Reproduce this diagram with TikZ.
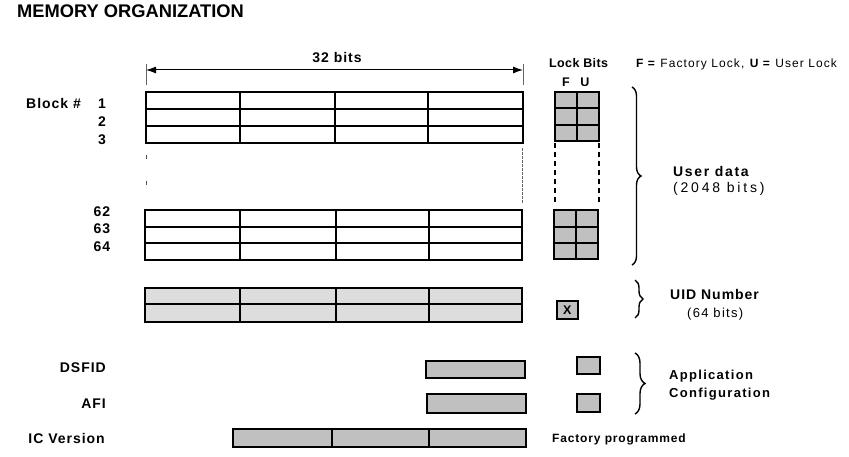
\documentclass[tikz,border=0pt]{standalone}
\usepackage{fontspec}
\setmainfont{Liberation Sans}
\usetikzlibrary{arrows.meta,decorations.pathreplacing}
\definecolor{lockgray}{RGB}{192,192,192}
\definecolor{uidgray}{RGB}{221,221,221}
\begin{document}
\begin{tikzpicture}[x=1pt,y=-1pt,
  tbl/.style={line width=1.7pt, line join=miter},
  thk/.style={line width=2.2pt},
  lbl/.style={inner sep=0pt, font=\bfseries\fontsize{14}{16}\selectfont\addfontfeature{LetterSpace=7}},
  sml/.style={inner sep=0pt, font=\bfseries\fontsize{12.5}{14}\selectfont\addfontfeature{LetterSpace=3}},
  reg/.style={inner sep=0pt, font=\fontsize{13}{15}\selectfont\addfontfeature{LetterSpace=10}},
  app/.style={inner sep=0pt, font=\bfseries\fontsize{13}{15}\selectfont\addfontfeature{LetterSpace=10}},
  gbox/.style={draw, line width=1.7pt, fill=lockgray},
  brc/.style={decorate, decoration={brace, amplitude=9pt, aspect=0.5}, line width=1.4pt},
  dsh/.style={line width=2pt, dash pattern=on 5pt off 4pt}]
\useasboundingbox (0,0) rectangle (849,457);

% title
\node[inner sep=0pt, anchor=base west, font=\bfseries\fontsize{18.3}{20}\selectfont] (title) at (17,18) {MEMORY ORGANIZATION};

% 32 bits dimension
\coordinate (wl) at (146,70);
\coordinate (wr) at (523,70);
\draw[line width=0.8pt, black!60] (146,64) -- (146,85) (523,64) -- (523,85);
\draw[line width=1pt, {Latex[length=10pt,width=7pt]}-{Latex[length=10pt,width=7pt]}] (wl) -- (wr);
\node[lbl, anchor=base] (bits) at (337,63) {32 bits};

% block labels
\node[lbl, anchor=base west] (blk) at (26,109) {Block \#};
\node[lbl, anchor=base] (n1) at (102,109) {1};
\node[lbl, anchor=base] (n2) at (102,127) {2};
\node[lbl, anchor=base] (n3) at (102,145) {3};
\node[lbl, anchor=base] (n62) at (102,217) {62};
\node[lbl, anchor=base] (n63) at (102,234) {63};
\node[lbl, anchor=base] (n64) at (102,252) {64};

% blocks 1-3
\draw[tbl] (146,92) rectangle (523,143);
\draw[thk] (146,109) -- (523,109);
\draw[tbl] (146,126) -- (523,126);
\foreach \x in {240,335,428} \draw[tbl] (\x,92) -- (\x,143);

% gap markers
\draw[line width=0.8pt, black!70] (146,155) -- (146,159) (146,181) -- (146,185);
\draw[line width=0.8pt, black!60, dash pattern=on 3pt off 1pt] (522,148) -- (522,204);

% blocks 62-64
\draw[tbl] (145,210) rectangle (522,260);
\draw[thk] (145,227) -- (522,227) (145,243) -- (522,243);
\foreach \x in {240,336,429} \draw[tbl] (\x,210) -- (\x,260);

% UID rows
\draw[tbl, fill=uidgray] (145,288) rectangle (522,322);
\draw[tbl] (145,304) -- (522,304);
\foreach \x in {240,336,429} \draw[tbl] (\x,288) -- (\x,322);

% lock bits header
\node[sml, anchor=base west] (lb) at (549,68) {Lock Bits};
\node[sml, anchor=base] (fl) at (566,87) {F};
\node[sml, anchor=base] (ul) at (585,87) {U};
\node[inner sep=0pt, anchor=base west, font=\fontsize{12}{14}\selectfont\addfontfeature{LetterSpace=9}] (legend) at (636,68) {\textbf{F =} Factory Lock, \textbf{U =} User Lock};

% lock grid 1
\draw[gbox] (555,92) rectangle (599,141);
\draw[line width=1.7pt] (555,108) -- (599,108) (555,125) -- (599,125) (577,92) -- (577,141);
% dashed continuation
\draw[dsh] (555,143) -- (555,203) (599,143) -- (599,203);
% lock grid 2
\draw[gbox] (554,210) rectangle (598,259);
\draw[line width=1.7pt] (554,227) -- (598,227) (554,243) -- (598,243) (576,210) -- (576,259);

% UID lock
\node[gbox, minimum width=21pt, minimum height=18pt, inner sep=0pt, anchor=north west, font=\bfseries\fontsize{12.5}{14}\selectfont] (xb) at (556,300) {X};

% braces
\draw[brc] (632,87) -- (632,265);
\draw[brc, decoration={amplitude=8pt}] (635,280) -- (635,318);
\draw[brc, decoration={amplitude=10pt}] (635,353) -- (635,414);

% right labels
\node[lbl, anchor=base west, font=\bfseries\fontsize{14}{16}\selectfont\addfontfeature{LetterSpace=12}] (ud) at (673,177) {User data};
\node[reg, anchor=base west, font=\fontsize{14}{16}\selectfont\addfontfeature{LetterSpace=20}] (udb) at (673,193) {(2048 bits)};
\node[lbl, anchor=base west] (uid) at (670,299) {UID Number};
\node[reg, anchor=base west] (uidb) at (687,317) {(64 bits)};
\node[app, anchor=base west] (app) at (669,379) {Application};
\node[app, anchor=base west] (conf) at (669,397) {Configuration};

% application config
\node[lbl, anchor=base east] (dsfid) at (106,372) {DSFID};
\node[lbl, anchor=base east] (afi) at (106,408) {AFI};
\node[lbl, anchor=base east] (icv) at (105,443) {IC Version};
\draw[gbox] (426,361) rectangle (525,378);
\draw[gbox] (427,394) rectangle (526,413);
\draw[gbox] (233,429) rectangle (526,447);
\draw[line width=1.7pt] (332,429) -- (332,447) (429,429) -- (429,447);
\draw[gbox] (577,357) rectangle (600,374);
\draw[gbox] (577,394) rectangle (600,412);
\node[inner sep=0pt, anchor=base west, font=\bfseries\fontsize{12}{14}\selectfont\addfontfeature{LetterSpace=7}] (fp) at (552,442) {Factory programmed};
\end{tikzpicture}
\end{document}
